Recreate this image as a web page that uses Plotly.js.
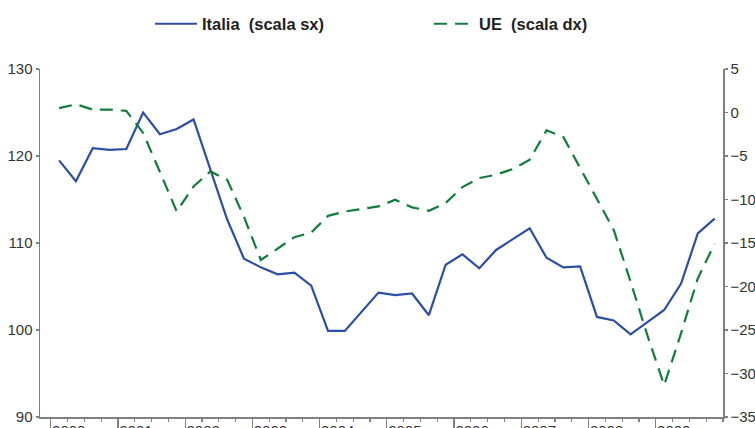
<!DOCTYPE html>
<html>
<head>
<meta charset="utf-8">
<script src="https://cdn.plot.ly/plotly-3.0.1.min.js"></script>
<style>html,body{margin:0;padding:0;background:#fff;}#chart{width:755px;height:428px;}</style>
</head>
<body>
<div id="chart"></div>
<script>
// Quarterly data 2000Q1 - 2009Q4
const years = [2000, 2001, 2002, 2003, 2004, 2005, 2006, 2007, 2008, 2009];
const yearLabels = ["2000", "2001", "2002", "2003", "2004", "2005", "2006", "2007", "2008", "2009"];
const quarters = [1, 2, 3, 4];

const italia = [119.5, 117.1, 120.9, 120.7, 120.8, 125.0, 122.5, 123.1, 124.2, 118.5,
                112.7, 108.2, 107.2, 106.4, 106.6, 105.1, 99.9, 99.9, 102.1, 104.3,
                104.0, 104.2, 101.7, 107.5, 108.7, 107.1, 109.2, 110.5, 111.7, 108.3,
                107.2, 107.3, 101.5, 101.1, 99.5, 100.9, 102.3, 105.3, 111.1, 112.8];

const ue = [0.5, 0.95, 0.33, 0.33, 0.18, -2.35, -6.84, -11.38, -8.5, -6.77,
            -7.73, -12.0, -16.95, -15.6, -14.33, -13.8, -11.88, -11.38, -11.1, -10.8,
            -10.03, -10.9, -11.3, -10.4, -8.57, -7.53, -7.15, -6.5, -5.43, -2.05,
            -2.81, -6.38, -10.03, -13.5, -19.45, -25.6, -31.35, -25.4, -19.06, -15.1];

const seriesNames = ["Italia\u00a0 (scala sx)", "UE\u00a0 (scala dx)"];

// quarter mid-points on a numeric time axis
const xq = [];
years.forEach(y => quarters.forEach(q => xq.push(y + (q - 0.5) / 4)));

const axisColor = "#808080";
const textColor = "#333333";
const font = {family: "Liberation Sans, Arial, sans-serif", size: 15, color: textColor};

const traces = [
  {x: xq, y: italia, type: "scatter", mode: "lines", name: seriesNames[0],
   line: {color: "#2b4ea6", width: 2.2}, yaxis: "y", legend: "legend"},
  {x: xq, y: ue, type: "scatter", mode: "lines", name: seriesNames[1],
   line: {color: "#107d3b", width: 2.2, dash: "13px,8px"}, yaxis: "y2", legend: "legend2"}
];

const legendFont = {family: "Liberation Sans, Arial, sans-serif", size: 16.5, color: "#222", weight: "bold"};

const layout = {
  width: 755, height: 428,
  margin: {l: 40, r: 32, t: 69, b: 11, pad: 0},
  paper_bgcolor: "#fff", plot_bgcolor: "#fff",
  font: font,
  showlegend: true,
  legend: {xref: "container", yref: "container", x: 150 / 755, y: 1 - 24 / 428,
           xanchor: "left", yanchor: "middle", orientation: "h", font: legendFont,
           itemwidth: 42, bgcolor: "rgba(0,0,0,0)"},
  legend2: {xref: "container", yref: "container", x: 429 / 755, y: 1 - 24 / 428,
           xanchor: "left", yanchor: "middle", orientation: "h", font: legendFont,
           itemwidth: 40, bgcolor: "rgba(0,0,0,0)"},
  xaxis: {
    range: [1999.841, 2010], showgrid: false, zeroline: false,
    showline: true, linecolor: axisColor, linewidth: 1.5,
    tickmode: "array", tickvals: years, ticktext: yearLabels,
    ticks: "outside", ticklen: 12, tickcolor: axisColor, tickwidth: 1.2,
    ticklabelposition: "outside right", ticklabelstandoff: -1,
    minor: {dtick: 0.25, tick0: 2000, ticks: "outside", ticklen: 3, tickcolor: axisColor, tickwidth: 1.2, showgrid: false},
    automargin: false, tickfont: font
  },
  yaxis: {
    range: [90, 130], tickvals: [90, 100, 110, 120, 130], showgrid: false, zeroline: false,
    showline: true, linecolor: axisColor, linewidth: 1.5,
    ticks: "outside", ticklen: 3, tickcolor: axisColor, tickwidth: 1.2,
    automargin: false, tickfont: font
  },
  yaxis2: {
    overlaying: "y", side: "right",
    range: [-35, 5], tickvals: [-35, -30, -25, -20, -15, -10, -5, 0, 5], showgrid: false, zeroline: false,
    showline: true, linecolor: axisColor, linewidth: 1.5,
    ticks: "outside", ticklen: 3, tickcolor: axisColor, tickwidth: 1.2,
    automargin: false, tickfont: font
  }
};

Plotly.newPlot("chart", traces, layout, {displayModeBar: false, staticPlot: true});
</script>
</body>
</html>
